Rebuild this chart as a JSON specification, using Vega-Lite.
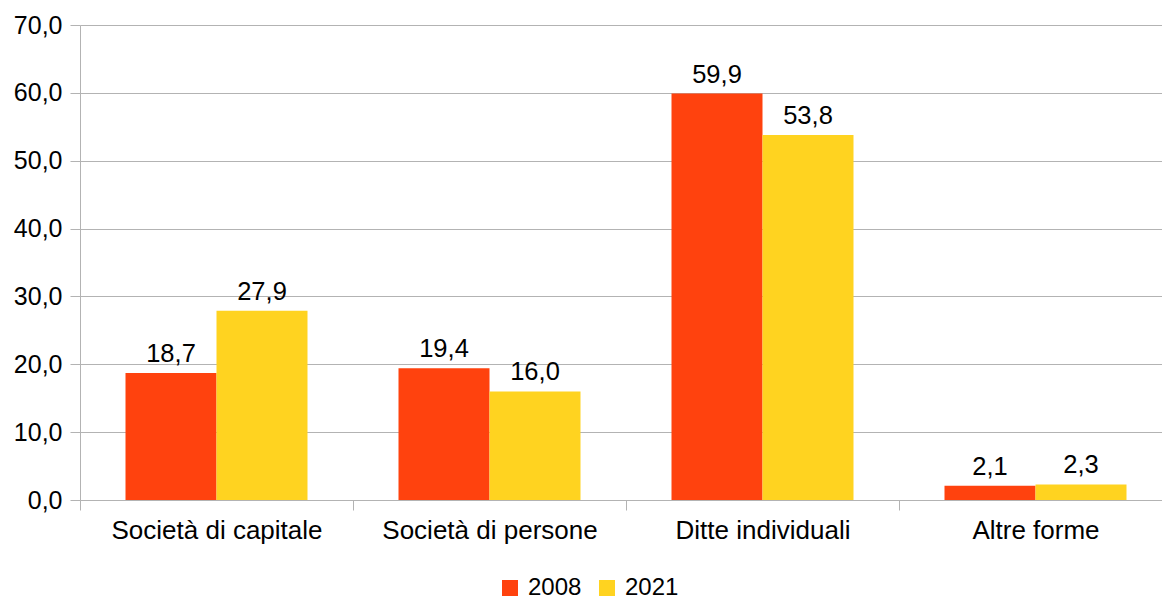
{
  "$schema": "https://vega.github.io/schema/vega-lite/v6.json",
  "width": 1082,
  "height": 475,
  "autosize": {"type": "none"},
  "padding": {"left": 80, "top": 25, "right": 0, "bottom": 99},
  "config": {
    "font": "Liberation Sans",
    "view": {"stroke": null},
    "locale": {"number": {"decimal": ",", "thousands": ".", "grouping": [3], "currency": ["€", ""]}}
  },
  "data": {
    "values": [
      {"forma": "Società di capitale", "anno": "2008", "valore": 18.7},
      {"forma": "Società di capitale", "anno": "2021", "valore": 27.9},
      {"forma": "Società di persone", "anno": "2008", "valore": 19.4},
      {"forma": "Società di persone", "anno": "2021", "valore": 16.0},
      {"forma": "Ditte individuali", "anno": "2008", "valore": 59.9},
      {"forma": "Ditte individuali", "anno": "2021", "valore": 53.8},
      {"forma": "Altre forme", "anno": "2008", "valore": 2.1},
      {"forma": "Altre forme", "anno": "2021", "valore": 2.3}
    ]
  },
  "encoding": {
    "x": {
      "field": "forma",
      "type": "nominal",
      "sort": null,
      "scale": {"range": [0, 1092], "paddingInner": 0, "paddingOuter": 0},
      "axis": {
        "title": null,
        "labelAngle": 0,
        "labelLimit": 0,
        "tickBand": "extent",
        "tickSize": 10,
        "domainColor": "#b3b3b3",
        "tickColor": "#b3b3b3",
        "labelFontSize": 26,
        "labelColor": "#000000",
        "labelPadding": 7,
        "grid": false
      }
    },
    "xOffset": {
      "field": "anno",
      "type": "nominal",
      "scale": {"paddingInner": 0, "paddingOuter": 0.5}
    },
    "y": {
      "field": "valore",
      "type": "quantitative",
      "scale": {"domain": [0, 70]},
      "axis": {
        "title": null,
        "values": [0, 10, 20, 30, 40, 50, 60, 70],
        "format": ".1f",
        "tickSize": 10,
        "labelPadding": 8,
        "grid": true,
        "gridColor": "#b3b3b3",
        "domainColor": "#b3b3b3",
        "tickColor": "#b3b3b3",
        "labelFontSize": 25,
        "labelColor": "#000000"
      }
    }
  },
  "layer": [
    {
      "mark": {"type": "bar"},
      "encoding": {
        "color": {
          "field": "anno",
          "type": "nominal",
          "scale": {"domain": ["2008", "2021"], "range": ["#ff420e", "#ffd320"]},
          "legend": {
            "orient": "none",
            "legendX": 418,
            "legendY": 551,
            "direction": "horizontal",
            "title": null,
            "symbolType": "square",
            "symbolSize": 256,
            "symbolStrokeWidth": 0,
            "labelFontSize": 24,
            "labelColor": "#000000",
            "labelOffset": 6,
            "columnPadding": 13,
            "padding": 0
          }
        }
      }
    },
    {
      "mark": {"type": "text", "baseline": "alphabetic", "dy": -11, "fontSize": 25.5, "color": "#000000"},
      "encoding": {
        "text": {"field": "valore", "type": "quantitative", "format": ".1f"}
      }
    }
  ]
}
